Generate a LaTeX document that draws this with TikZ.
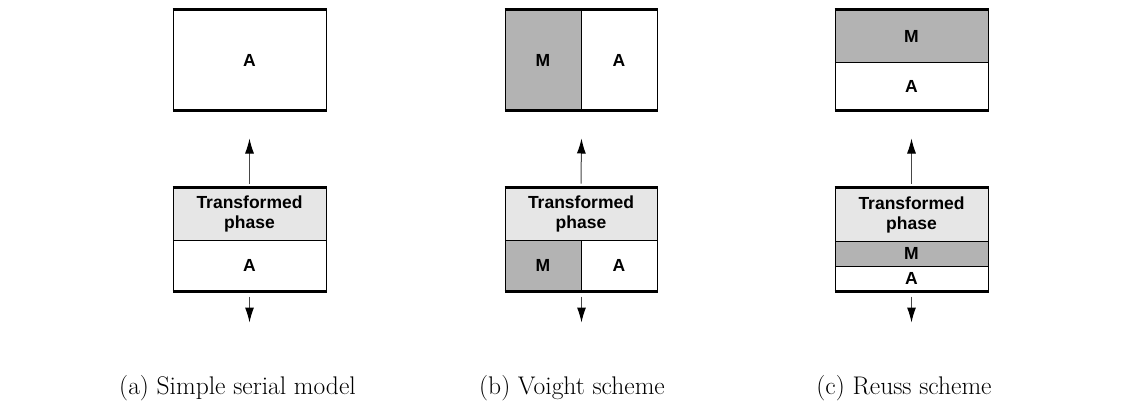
\documentclass[tikz,border=0pt]{standalone}
\usepackage{fontspec}
\newfontfamily\labfont{Liberation Sans}
\usetikzlibrary{arrows.meta}
\definecolor{mgray}{RGB}{179,179,179}
\definecolor{tgray}{RGB}{230,230,230}
\definecolor{linegray}{RGB}{70,70,70}
\tikzset{
  region/.style={draw=black, line width=1pt, inner sep=0pt, minimum width=#1,
    font=\labfont\bfseries\fontsize{17.5}{20}\selectfont, align=center},
  region/.default=153pt,
  edgeline/.style={line width=3pt, black},
  flowarrow/.style={draw=linegray, line width=1pt, -{Latex[length=15pt,width=9pt,color=black,fill=black]}},
  captext/.style={font=\fontsize{25.5}{30}\selectfont, anchor=base, inner sep=0pt}
}
\begin{document}
\begin{tikzpicture}[x=1pt,y=-1pt]
\useasboundingbox[fill=white] (0,0) rectangle (1145,413);
% ---------- (a) ----------
\node[region, fill=white, minimum height=100pt] (aTop) at (249.5,60) {A};
\node[region, fill=tgray, minimum height=52pt] (aTr) at (249.5,214) {Transformed\\phase};
\node[region, fill=white, minimum height=51pt] (aA) at (249.5,265.5) {A};
\draw[edgeline] (aTop.north west) -- (aTop.north east);
\draw[edgeline] (aTop.south west) -- (aTop.south east);
\draw[edgeline] (aTr.north west) -- (aTr.north east);
\draw[edgeline] (aA.south west) -- (aA.south east);
\draw[flowarrow] ([yshift=4pt]aTr.north) -- ([yshift=-28pt]aTop.south);
\coordinate (aOut) at ([yshift=-31pt]aA.south);
\draw[flowarrow] ([yshift=-5pt]aA.south) -- (aOut);
% ---------- (b) ----------
\node[region=76pt, fill=mgray, minimum height=100pt] (bTopM) at (543,60) {M};
\node[region=76pt, fill=white, minimum height=100pt] (bTopA) at (619,60) {A};
\node[region=152pt, fill=tgray, minimum height=52pt] (bTr) at (581,214) {Transformed\\phase};
\node[region=76pt, fill=mgray, minimum height=51pt] (bM) at (543,265.5) {M};
\node[region=76pt, fill=white, minimum height=51pt] (bA) at (619,265.5) {A};
\draw[edgeline] (bTopM.north west) -- (bTopA.north east);
\draw[edgeline] (bTopM.south west) -- (bTopA.south east);
\draw[edgeline] (bTr.north west) -- (bTr.north east);
\draw[edgeline] (bM.south west) -- (bA.south east);
\draw[flowarrow] ([yshift=4pt]bTr.north) -- ([yshift=-28pt]bTopM.south east);
\coordinate (bOut) at ([yshift=-31pt]bM.south east);
\draw[flowarrow] ([yshift=-5pt]bM.south east) -- (bOut);
% ---------- (c) ----------
\node[region, fill=mgray, minimum height=52pt] (cTopM) at (911.5,36) {M};
\node[region, fill=white, minimum height=48pt] (cTopA) at (911.5,86) {A};
\node[region, fill=tgray, minimum height=53pt] (cTr) at (911.5,214.5) {Transformed\\phase};
\node[region, fill=mgray, minimum height=25pt] (cM) at (911.5,253.5) {M};
\node[region, fill=white, minimum height=25pt] (cA) at (911.5,278.5) {A};
\draw[edgeline] (cTopM.north west) -- (cTopM.north east);
\draw[edgeline] (cTopA.south west) -- (cTopA.south east);
\draw[edgeline] (cTr.north west) -- (cTr.north east);
\draw[edgeline] (cA.south west) -- (cA.south east);
\draw[flowarrow] ([yshift=4pt]cTr.north) -- ([yshift=-28pt]cTopA.south);
\coordinate (cOut) at ([yshift=-31pt]cA.south);
\draw[flowarrow] ([yshift=-5pt]cA.south) -- (cOut);
% ---------- captions ----------
\node[captext] (capA) at (237.5,394) {(a) Simple serial model};
\node[captext] (capB) at (572,394) {(b) Voight scheme};
\node[captext] (capC) at (904,394) {(c) Reuss scheme};
\end{tikzpicture}
\end{document}
